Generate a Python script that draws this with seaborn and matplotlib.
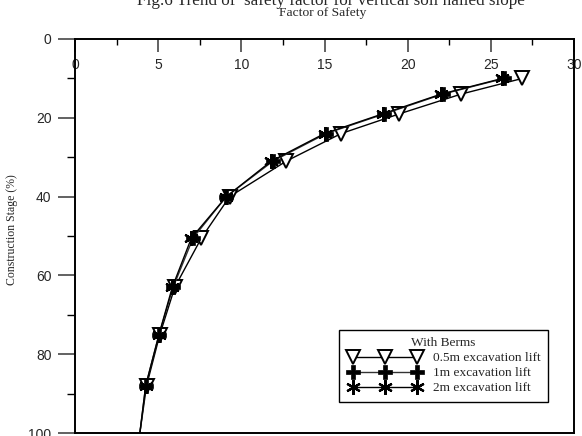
import numpy as np
import pandas as pd
import matplotlib
matplotlib.use("Agg")
import matplotlib.pyplot as plt
from matplotlib.lines import Line2D
from matplotlib.legend_handler import HandlerLine2D
from matplotlib.ticker import MultipleLocator
import seaborn as sns

# ---- data ----
stage = [10, 14, 19, 24, 31, 40, 50.5, 63, 75, 88, 100]
fs_05m = [26.9, 23.2, 19.5, 16.0, 12.7, 9.3, 7.6, 6.0, 5.1, 4.3, 3.9]
fs_1m = [25.8, 22.1, 18.6, 15.1, 11.9, 9.1, 7.1, 5.9, 5.05, 4.25, 3.9]
fs_2m = [25.7, 22.0, 18.5, 15.0, 11.8, 9.1, 7.0, 5.85, 5.05, 4.25, 3.9]
n_markers = 10  # last point (stage 100) is the curve end, no marker
labels = ["0.5m excavation lift", "1m excavation lift", "2m excavation lift"]
legend_title = "With Berms"
x_ticks = [0, 5, 10, 15, 20, 25, 30]
y_ticks = [0, 20, 40, 60, 80, 100]

sns.set_style("ticks")
plt.rcParams["font.family"] = ["Liberation Sans", "DejaVu Sans"]
SERIF = ["Liberation Serif", "DejaVu Serif"]

fig = plt.figure(figsize=(5.82, 4.36), dpi=100)
W, H = 582, 436
L, R, T, B = 75, 574, 39, 433
ax = fig.add_axes([L / W, 1 - B / H, (R - L) / W, (B - T) / H])

styles = [
    dict(marker="v", markersize=9.5, markerfacecolor="white", markeredgecolor="black",
         markeredgewidth=1.4, color="black", linewidth=1.0),
    dict(marker="P", markersize=9.5, markerfacecolor="black", markeredgecolor="black",
         markeredgewidth=0.5, color="#333333", linewidth=1.0),
    dict(marker=(6, 2, 0), markersize=10.5, markerfacecolor="black", markeredgecolor="black",
         markeredgewidth=1.6, color="black", linewidth=1.0),
]

series = [fs_05m, fs_1m, fs_2m]
for fs, lab, st in zip(series, labels, styles):
    df = pd.DataFrame({"fs": fs, "stage": stage})
    sns.lineplot(data=df, x="fs", y="stage", sort=False, estimator=None, ax=ax,
                 markevery=list(range(n_markers)), legend=False, **st)

ax.set_xlim(0, 30)
ax.set_ylim(100, 0)
ax.set_xticks(x_ticks)
ax.set_xticklabels([str(v) for v in x_ticks])
ax.set_yticks(y_ticks)
ax.set_yticklabels([str(v) for v in y_ticks])
ax.xaxis.set_minor_locator(MultipleLocator(2.5))
ax.yaxis.set_minor_locator(MultipleLocator(10))

ax.xaxis.tick_top()
ax.tick_params(axis="x", which="both", direction="in", top=True, bottom=False,
               labeltop=True, labelbottom=False, labelsize=10, pad=-24)
ax.tick_params(axis="x", which="major", length=9.4, width=1.3, color="#555555")
ax.tick_params(axis="x", which="minor", length=4, width=1.0, color="black")
ax.tick_params(axis="y", which="both", direction="out", left=True, right=False,
               labelsize=10, pad=5)
ax.tick_params(axis="y", which="major", length=12, width=1.3, color="#555555")
ax.tick_params(axis="y", which="minor", length=6, width=1.0, color="black")

for sp in ax.spines.values():
    sp.set_visible(True)
    sp.set_color("black")
    sp.set_linewidth(1.4)

ax.set_xlabel("Factor of Safety", family=SERIF, fontsize=9.7)
ax.xaxis.set_label_position("top")
ax.xaxis.set_label_coords((323 - L) / (R - L), 1 + (T - 13) / (B - T))
ax.xaxis.label.set_va("center")
ax.set_ylabel("Construction Stage (%)", family=SERIF, fontsize=8.5)
ax.yaxis.set_label_coords((12 - L) / (R - L), 1 - (230 - T) / (B - T))
ax.yaxis.label.set_va("center")

fig.text(331 / W, 1 - 5.0 / H, "Fig.6 Trend of  safety factor for vertical soil nailed slope",
         family=SERIF, fontsize=12.3, ha="center", va="baseline")

handles = [Line2D([], [], **st) for st in styles]
leg = ax.legend(handles, labels, title=legend_title, loc="upper left",
                bbox_to_anchor=((339 - L) / (R - L), 1 - (330 - T) / (B - T)),
                borderaxespad=0, numpoints=3, handlelength=5.75, handletextpad=0.76,
                labelspacing=0.2, borderpad=0.55, fancybox=False, framealpha=1,
                edgecolor="black", prop={"family": SERIF, "size": 9.6},
                title_fontproperties={"family": SERIF, "size": 9.6},
                handler_map={Line2D: HandlerLine2D(marker_pad=0.48)})
leg.get_frame().set_linewidth(1.0)

fig.savefig("out.png", dpi=100)
